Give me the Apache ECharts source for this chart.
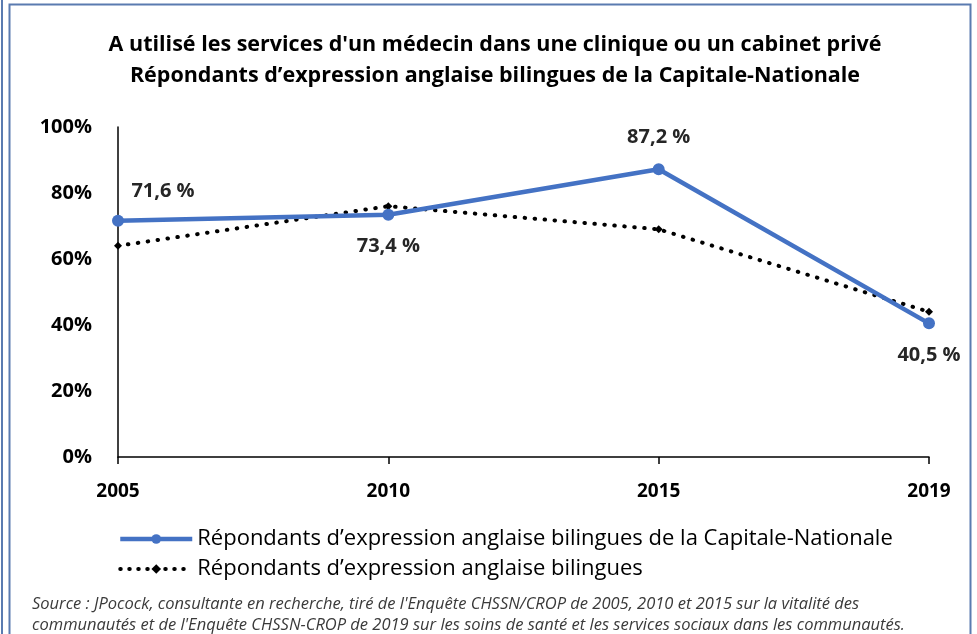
<!DOCTYPE html>
<html>
<head>
<meta charset="utf-8">
<script src="https://cdn.jsdelivr.net/npm/echarts@6/dist/echarts.min.js"></script>
<style>
  html, body { margin: 0; padding: 0; background: #fff; }
  #chart { width: 977px; height: 634px; }
</style>
</head>
<body>
<div id="chart"></div>
<script>
const years = ['2005', '2010', '2015', '2019'];
const capitaleNationale = [71.6, 73.4, 87.2, 40.5];
const bilingues = [64, 76, 69, 44];
const labelPositions = ['top', 'bottom', 'top', 'bottom'];
const yTicks = [0, 20, 40, 60, 80, 100];

const titleLines = [
  "A utilisé les services d'un médecin dans une clinique ou un cabinet privé",
  'Répondants d’expression anglaise bilingues de la Capitale-Nationale'
];
const seriesNames = [
  'Répondants d’expression anglaise bilingues de la Capitale-Nationale',
  'Répondants d’expression anglaise bilingues'
];
const sourceLines = [
  "Source : JPocock, consultante en recherche, tiré de l'Enquête CHSSN/CROP de 2005, 2010 et 2015 sur la vitalité des",
  "communautés et de l'Enquête CHSSN-CROP de 2019 sur les soins de santé et les services sociaux dans les communautés."
];

const fmt = (v) => String(v).replace('.', ',') + ' %';

const chart = echarts.init(document.getElementById('chart'));

chart.setOption({
  animation: false,
  textStyle: { fontFamily: 'Open Sans' },
  title: {
    text: titleLines.join('\n'),
    left: 490,
    textAlign: 'center',
    top: 24,
    textStyle: { fontSize: 21.5, fontWeight: 'bold', color: '#000', lineHeight: 31, fontFamily: 'Open Sans' }
  },
  grid: { left: 118, right: 48, top: 127, bottom: 177, containLabel: false },
  xAxis: {
    type: 'category',
    data: years,
    boundaryGap: false,
    axisLine: { lineStyle: { color: '#000', width: 1.5 } },
    axisTick: { show: true, length: 7, lineStyle: { color: '#000', width: 1.5 } },
    axisLabel: { color: '#000', fontWeight: 'bold', fontSize: 19, margin: 25 }
  },
  yAxis: {
    type: 'value',
    min: 0,
    max: 100,
    interval: 20,
    axisLine: { show: true, lineStyle: { color: '#000', width: 1.5 } },
    axisTick: { show: false },
    splitLine: { show: false },
    axisLabel: {
      color: '#000', fontWeight: 'bold', fontSize: 20, margin: 26,
      formatter: (v) => (yTicks.includes(v) ? v + '%' : '')
    }
  },
  legend: {
    orient: 'vertical',
    left: 113,
    top: 523,
    itemWidth: 72,
    itemHeight: 12,
    itemGap: 8,
    textStyle: { fontSize: 22, color: '#000', fontFamily: 'Open Sans' },
    data: [
      { name: seriesNames[0], lineStyle: { width: 4.5 } },
      { name: seriesNames[1], lineStyle: { width: 4, type: [0.5, 8.5], cap: 'round' } }
    ]
  },
  series: [
    {
      name: seriesNames[1],
      type: 'line',
      data: bilingues,
      z: 2,
      symbol: 'diamond',
      symbolSize: 8,
      itemStyle: { color: '#000' },
      lineStyle: { color: '#000', width: 4, type: [0.5, 9.5], cap: 'round' }
    },
    {
      name: seriesNames[0],
      type: 'line',
      data: capitaleNationale.map((v, i) => ({
        value: v,
        label: {
          show: true,
          position: labelPositions[i],
          distance: i === 0 ? 13 : 16,
          offset: i === 0 ? [45, 0] : [0, 0]
        }
      })),
      z: 3,
      symbol: 'circle',
      symbolSize: 12,
      itemStyle: { color: '#4472C4' },
      lineStyle: { color: '#4472C4', width: 4.5 },
      label: {
        color: '#262626',
        fontWeight: 'bold',
        fontSize: 20,
        formatter: (p) => fmt(p.value)
      }
    }
  ],
  graphic: [
    {
      type: 'rect',
      shape: { x: 9.5, y: 4.5, width: 961, height: 640 },
      style: { fill: 'none', stroke: '#5a7bb0', lineWidth: 2 },
      silent: true
    },
    {
      type: 'line',
      shape: { x1: 2, y1: 0, x2: 2, y2: 634 },
      style: { stroke: '#5a7bb0', lineWidth: 2 },
      silent: true
    },
    {
      type: 'text',
      left: 32,
      top: 594,
      style: {
        text: sourceLines.join('\n'),
        font: 'italic 16.5px "Open Sans"',
        fill: '#3a3a3a',
        lineHeight: 21
      },
      silent: true
    }
  ]
});
</script>
</body>
</html>
